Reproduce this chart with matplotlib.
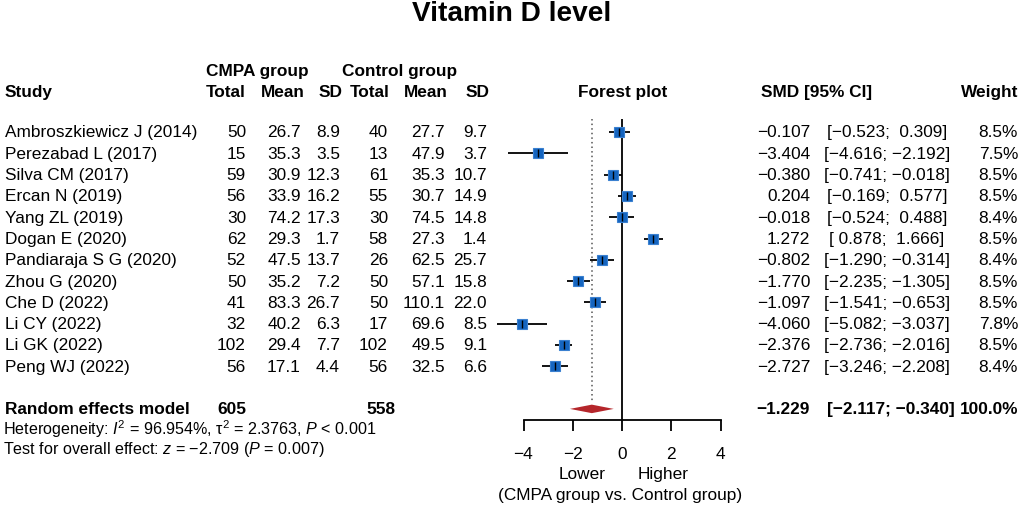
import matplotlib
matplotlib.use('Agg')
import matplotlib.pyplot as plt
import numpy as np

plt.rcParams['font.family'] = ['Liberation Sans', 'DejaVu Sans']
plt.rcParams['mathtext.fontset'] = 'custom'
plt.rcParams['mathtext.rm'] = 'Liberation Sans'
plt.rcParams['mathtext.it'] = 'Liberation Sans:italic'

# ---- data ----
studies = ['Ambroszkiewicz J (2014)', 'Perezabad L (2017)', 'Silva CM (2017)', 'Ercan N (2019)',
           'Yang ZL (2019)', 'Dogan E (2020)', 'Pandiaraja S G (2020)', 'Zhou G (2020)',
           'Che D (2022)', 'Li CY (2022)', 'Li GK (2022)', 'Peng WJ (2022)']
cmpa_n = [50, 15, 59, 56, 30, 62, 52, 50, 41, 32, 102, 56]
cmpa_mean = ['26.7', '35.3', '30.9', '33.9', '74.2', '29.3', '47.5', '35.2', '83.3', '40.2', '29.4', '17.1']
cmpa_sd = ['8.9', '3.5', '12.3', '16.2', '17.3', '1.7', '13.7', '7.2', '26.7', '6.3', '7.7', '4.4']
ctrl_n = [40, 13, 61, 55, 30, 58, 26, 50, 50, 17, 102, 56]
ctrl_mean = ['27.7', '47.9', '35.3', '30.7', '74.5', '27.3', '62.5', '57.1', '110.1', '69.6', '49.5', '32.5']
ctrl_sd = ['9.7', '3.7', '10.7', '14.9', '14.8', '1.4', '25.7', '15.8', '22.0', '8.5', '9.1', '6.6']
smd = [-0.107, -3.404, -0.380, 0.204, -0.018, 1.272, -0.802, -1.770, -1.097, -4.060, -2.376, -2.727]
ci_lo = [-0.523, -4.616, -0.741, -0.169, -0.524, 0.878, -1.290, -2.235, -1.541, -5.082, -2.736, -3.246]
ci_hi = [0.309, -2.192, -0.018, 0.577, 0.488, 1.666, -0.314, -1.305, -0.653, -3.037, -2.016, -2.208]
weight = [8.5, 7.5, 8.5, 8.5, 8.4, 8.5, 8.4, 8.5, 8.5, 7.8, 8.5, 8.4]
re_smd, re_lo, re_hi = -1.229, -2.117, -0.340
x_ticks = [-4, -2, 0, 2, 4]

MINUS = '\u2212'
def fmt(v):
    s = f'{v:.3f}'
    return s.replace('-', MINUS) if v < 0 else s

def fmt_ci(lo, hi):
    pad = lambda v: fmt(v) if v < 0 else ' ' + fmt(v)
    return f'[{pad(lo)}; {pad(hi)}]'

# ---- layout ----
W, H = 1026, 510
row0, dy = 133, 21.3           # pixel y of first study row, row spacing
def prow(py):                  # pixel y -> row coordinate
    return (py - row0) / dy

fig = plt.figure(figsize=(W / 100, H / 100), dpi=100)
ax = fig.add_axes([0, 0, 1, 1])
ax.set_xlim(0, W)
ax.set_ylim(prow(H), prow(0))
ax.axis('off')

x_left, x_right = 523.5, 720.7
y_top, y_axis = 120, 420.7
axf = fig.add_axes([x_left / W, 1 - y_axis / H, (x_right - x_left) / W, (y_axis - y_top) / H])
axf.set_xlim(-4, 4)
axf.set_ylim(prow(y_axis), prow(y_top))
axf.patch.set_alpha(0)
for s in ['top', 'left', 'right']:
    axf.spines[s].set_visible(False)
axf.spines['bottom'].set_linewidth(1.3)
axf.set_yticks([])
axf.set_xticks(x_ticks)
axf.tick_params(axis='x', length=8, width=1.3, pad=11, labelsize=12.4, direction='out')

fs = 12.4
rows = np.arange(len(studies))
sum_row = 13

# forest marks
axf.axvline(0, color='black', lw=1.3)
axf.plot([re_smd, re_smd], [prow(y_top), sum_row - 0.3], color='#555555', lw=1.1, ls=(0, (1, 2)))
axf.hlines(rows, ci_lo, ci_hi, color='black', lw=1.3, zorder=3, clip_on=False)
for r, m, w in zip(rows, smd, weight):
    axf.plot(m, r, marker='s', ms=7.6 * np.sqrt(w / 8.5), mfc='#1565c0', mec='#3a80d0', mew=0.8,
             zorder=4, clip_on=False)
    axf.plot(m, r, marker='|', ms=6, color='black', mew=1.0, zorder=5, clip_on=False)
h = 0.2
axf.fill([re_lo, re_smd, re_hi, re_smd], [sum_row, sum_row - h, sum_row, sum_row + h],
         color='#b5262b', lw=0, zorder=4)

# title and headers
ax.text(512, prow(14), 'Vitamin D level', ha='center', va='center', fontsize=20.2, fontweight='bold')
hdr = dict(va='center', fontsize=fs, fontweight='bold')
ax.text(257, prow(72), 'CMPA group', ha='center', **hdr)
ax.text(400, prow(72), 'Control group', ha='center', **hdr)
hy = prow(93)
ax.text(5, hy, 'Study', ha='left', **hdr)
for x, t in [(246, 'Total'), (305, 'Mean'), (343, 'SD'), (390, 'Total'), (448, 'Mean'), (490, 'SD'), (1018, 'Weight')]:
    ax.text(x, hy, t, ha='right', **hdr)
ax.text(623, hy, 'Forest plot', ha='center', **hdr)
ax.text(761, hy, 'SMD [95% CI]', ha='left', **hdr)

# study rows
txt = dict(va='center', fontsize=fs)
for r in rows:
    ax.text(5, r, studies[r], ha='left', **txt)
    ax.text(246, r, str(cmpa_n[r]), ha='right', **txt)
    ax.text(301, r, cmpa_mean[r], ha='right', **txt)
    ax.text(340, r, cmpa_sd[r], ha='right', **txt)
    ax.text(388, r, str(ctrl_n[r]), ha='right', **txt)
    ax.text(445, r, ctrl_mean[r], ha='right', **txt)
    ax.text(487, r, ctrl_sd[r], ha='right', **txt)
    ax.text(810, r, fmt(smd[r]), ha='right', **txt)
    ax.text(887, r, fmt_ci(ci_lo[r], ci_hi[r]), ha='center', **txt)
    ax.text(1018, r, f'{weight[r]:.1f}%', ha='right', **txt)

# summary row
bold = dict(va='center', fontsize=fs, fontweight='bold')
ax.text(5, sum_row, 'Random effects model', ha='left', **bold)
ax.text(246, sum_row, str(sum(cmpa_n)), ha='right', **bold)
ax.text(395, sum_row, str(sum(ctrl_n)), ha='right', **bold)
ax.text(810, sum_row, fmt(re_smd), ha='right', **bold)
ax.text(891, sum_row, fmt_ci(re_lo, re_hi), ha='center', **bold)
ax.text(1018, sum_row, '100.0%', ha='right', **bold)

small = dict(va='center', fontsize=11.6, ha='left')
ax.text(3, prow(429), 'Heterogeneity: $I^2$ = 96.954%, \u03c4$^2$ = 2.3763, $P$ < 0.001', **small)
ax.text(3, prow(450), 'Test for overall effect: $z$ = \u22122.709 ($P$ = 0.007)', **small)

ax.text(582, prow(475), 'Lower', ha='center', va='center', fontsize=fs)
ax.text(663, prow(475), 'Higher', ha='center', va='center', fontsize=fs)
ax.text(620, prow(496), '(CMPA group vs. Control group)', ha='center', va='center', fontsize=fs)

fig.savefig('out.png', dpi=100, facecolor='white')
